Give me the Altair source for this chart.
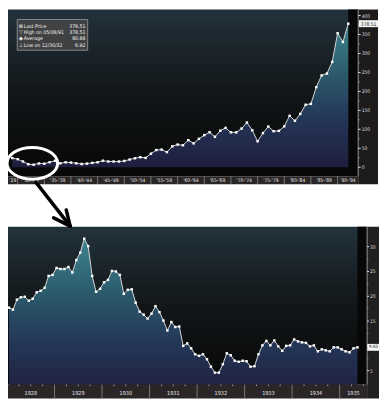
import altair as alt
import pandas as pd

# ---------------- data ----------------
top_years = list(range(1928, 1992))
top_values = [24.35, 21.45, 15.34, 8.12, 6.92, 10.10, 9.50, 13.43, 17.18, 10.55,
              13.21, 12.49, 10.58, 8.69, 9.77, 11.67, 13.28, 17.36, 15.30, 15.30,
              15.20, 16.76, 20.41, 23.77, 26.57, 24.81, 35.98, 45.48, 46.67, 39.99,
              55.21, 59.89, 58.11, 71.55, 63.10, 75.02, 84.75, 92.43, 80.33, 96.47,
              103.86, 92.06, 92.15, 102.09, 118.05, 97.55, 68.56, 90.19, 107.46, 95.10,
              96.11, 107.94, 135.76, 122.55, 140.64, 164.93, 167.24, 211.28, 242.17, 247.08,
              277.72, 353.40, 330.22, 378.51]
top_ticks = [0, 50, 100, 150, 200, 250, 300, 350, 400]
top_minor = [25, 75, 125, 175, 225, 275, 325, 375]
top_bounds = [1929, 1934, 1939, 1944, 1949, 1954, 1959, 1964, 1969, 1974, 1979, 1984, 1989]
top_xlabels = ["'29", "'30-'34", "'35-'39", "'40-'44", "'45-'49", "'50-'54", "'55-'59",
               "'60-'64", "'65-'69", "'70-'74", "'75-'79", "'80-'84", "'85-'89", "'90-'94"]
top_last_label = "378.51"

legend_symbols = ["\u22a0", "\u22a4", "\u25c6", "\u22a5"]
legend_names = ["Last Price", "High on 05/08/91", "Average", "Low on 12/30/32"]
legend_values = ["378.51", "378.51", "80.88", "6.92"]

bot_start_year = 1928
bot_values = [17.7, 17.3, 19.3, 19.8, 19.9, 19.1, 19.5, 20.8, 21.1, 21.7, 24.1, 24.3,
              25.7, 25.5, 25.5, 25.9, 24.8, 27.3, 28.8, 31.6, 30.1, 24.1, 20.9, 21.5,
              22.8, 23.3, 25.1, 25.0, 24.3, 20.5, 21.3, 21.4, 18.7, 16.9, 16.3, 15.5,
              16.5, 18.0, 16.8, 15.1, 13.1, 14.8, 13.8, 13.9, 10.0, 10.5, 9.5, 8.3,
              8.0, 8.3, 7.3, 5.8, 4.6, 4.6, 6.3, 8.5, 8.1, 7.0, 6.8, 7.0,
              6.9, 5.8, 5.9, 8.3, 10.1, 11.0, 10.1, 11.1, 9.9, 9.0, 10.0, 10.1,
              11.3, 10.9, 10.7, 10.6, 9.9, 10.1, 8.9, 9.3, 9.1, 8.9, 9.7, 9.7,
              9.3, 8.9, 8.7, 9.5, 9.7]
bot_ticks = [5, 10, 15, 20, 25, 30]
bot_tick_labels = [5, 15, 20, 25, 30]
bot_minor = [7.5, 12.5, 17.5, 22.5, 27.5]
bot_years = [1928, 1929, 1930, 1931, 1932, 1933, 1934, 1935]
bot_last_label = "9.65"

# ---------------- geometry / scales ----------------
FONT = "DejaVu Sans Condensed, Liberation Sans Narrow, Liberation Sans, sans-serif"
TX_DOM, TX_RNG = [1927.196, 1992.86], [0, 353]
TY_DOM, TY_RNG = [0, 400], [159, 6]
BX_DOM, BX_RNG = [1928, 1935.578], [-1, 362]
BY_DOM, BY_RNG = [5, 30], [364, 239]

def S(dom, rng):
    return alt.Scale(domain=dom, range=rng, nice=False, zero=False)

def XT(f="t"):
    return alt.X(f + ":Q", scale=S(TX_DOM, TX_RNG), axis=None)

def YT(f="v"):
    return alt.Y(f + ":Q", scale=S(TY_DOM, TY_RNG), axis=None)

def XB(f="t"):
    return alt.X(f + ":Q", scale=S(BX_DOM, BX_RNG), axis=None)

def YB(f="v"):
    return alt.Y(f + ":Q", scale=S(BY_DOM, BY_RNG), axis=None)

V = alt.value
one = pd.DataFrame({"k": [0]})

BG_GRAD = alt.Gradient(gradient="linear", x1=0, x2=0, y1=0, y2=1, stops=[
    alt.GradientStop(offset=0, color="#22323c"),
    alt.GradientStop(offset=0.5, color="#121618"),
    alt.GradientStop(offset=1, color="#070707")])
AREA_GRAD = alt.Gradient(gradient="linear", x1=0, x2=0, y1=0, y2=1, stops=[
    alt.GradientStop(offset=0, color="#3e838e"),
    alt.GradientStop(offset=0.35, color="#2b5a6c"),
    alt.GradientStop(offset=0.65, color="#243858"),
    alt.GradientStop(offset=1, color="#1f1d3e")])

top_df = pd.DataFrame({"t": top_years, "v": top_values})
bot_df = pd.DataFrame({"t": [bot_start_year + (i + 0.5) / 12 for i in range(len(bot_values))],
                       "v": bot_values})

layers = []

# ================= TOP PANEL =================
T_PB, T_OB, T_AX, T_OR = 168, 176, 353, 373
layers.append(alt.Chart(one).mark_rect(color=BG_GRAD).encode(
    x=V(0), x2=V(T_AX), y=V(0), y2=V(T_PB)))
layers.append(alt.Chart(top_df.tail(1)).mark_rect(color="#070707").encode(
    x=XT(), x2=V(T_AX), y=V(0), y2=V(T_PB)))
layers.append(alt.Chart(top_df).mark_area(color=AREA_GRAD, line=False).encode(
    x=XT(), y=YT(), y2=V(T_PB)))
layers.append(alt.Chart(top_df).mark_line(color="#d4d4d4", strokeWidth=1).encode(
    x=XT(), y=YT()))
layers.append(alt.Chart(top_df).mark_square(size=6, color="#ffffff", opacity=1).encode(
    x=XT(), y=YT()))
# strips
layers.append(alt.Chart(one).mark_rect(color="#2a2627").encode(
    x=V(0), x2=V(T_AX), y=V(T_PB), y2=V(T_OB)))
layers.append(alt.Chart(one).mark_rect(color="#1e1b1c").encode(
    x=V(T_AX), x2=V(T_OR), y=V(0), y2=V(T_OB)))
layers.append(alt.Chart(one).mark_rule(color="#8c8c8c", strokeWidth=1).encode(
    x=V(T_AX), y=V(0), y2=V(T_PB)))
# y ticks & labels
layers.append(alt.Chart(pd.DataFrame({"v": top_ticks})).mark_rule(color="#dddddd", strokeWidth=1).encode(
    y=YT(), x=V(T_AX), x2=V(T_AX + 2.5)))
layers.append(alt.Chart(pd.DataFrame({"v": top_minor})).mark_rule(color="#aaaaaa", strokeWidth=0.8).encode(
    y=YT(), x=V(T_AX), x2=V(T_AX + 1.5)))
layers.append(alt.Chart(pd.DataFrame({"v": top_ticks, "s": [str(t) for t in top_ticks]})).mark_text(
    font=FONT, fontSize=5, color="#dcdcdc", align="left", baseline="middle").encode(
    y=YT(), x=V(T_AX + 3.5), text="s:N"))
# last price box
layers.append(alt.Chart(top_df.tail(1)).mark_point(
    shape="M-1,-0.36L1,-0.36L1,0.36L-1,0.36Z", size=380, filled=True, color="#f4f4f4", opacity=1).encode(
    y=YT(), x=V(T_AX + 10.5)))
layers.append(alt.Chart(pd.DataFrame({"v": [top_values[-1]], "s": [top_last_label]})).mark_text(
    font=FONT, fontSize=5, color="#222222", align="center", baseline="middle").encode(
    y=YT(), x=V(T_AX + 10.5), text="s:N"))
# x strip labels & separators
tb_full = [TX_DOM[0]] + top_bounds + [TX_DOM[1]]
top_lab_df = pd.DataFrame({"t": [(a + b) / 2 for a, b in zip(tb_full[:-1], tb_full[1:])],
                           "s": top_xlabels})
layers.append(alt.Chart(pd.DataFrame({"t": top_bounds})).mark_rule(color="#8a8a8a", strokeWidth=0.8).encode(
    x=XT(), y=V(T_PB), y2=V(T_OB)))
layers.append(alt.Chart(top_lab_df).mark_text(
    font=FONT, fontSize=5, color="#e8e8e8", align="center", baseline="middle").encode(
    x=XT(), y=V(T_PB + 4.3), text="s:N"))
# legend box
layers.append(alt.Chart(one).mark_rect(color="#404142", stroke="#9a9a9a", strokeWidth=0.8).encode(
    x=V(9.3), x2=V(80.3), y=V(10), y2=V(41)))
leg_df = pd.DataFrame({"r": [0, 1, 2, 3], "sym": legend_symbols, "n": legend_names, "val": legend_values})
LEG_Y = alt.Y("r:Q", scale=alt.Scale(domain=[0, 3], range=[16.5, 35.5], nice=False, zero=False), axis=None)
layers.append(alt.Chart(leg_df).mark_text(font="DejaVu Sans", fontSize=5, color="#f0f0f0",
                                          align="center", baseline="middle").encode(
    y=LEG_Y, x=V(13), text="sym:N"))
layers.append(alt.Chart(leg_df).mark_text(font=FONT, fontSize=5.2, color="#f0f0f0",
                                          align="left", baseline="middle").encode(
    y=LEG_Y, x=V(16), text="n:N"))
layers.append(alt.Chart(leg_df).mark_text(font=FONT, fontSize=5.2, color="#f0f0f0",
                                          align="right", baseline="middle").encode(
    y=LEG_Y, x=V(78), text="val:N"))

# ================= BOTTOM PANEL =================
B_PT, B_PB, B_OB, B_AX, B_OR = 219, 378, 392, 362, 374
layers.append(alt.Chart(one).mark_rect(color=BG_GRAD).encode(
    x=V(0), x2=V(B_AX), y=V(B_PT), y2=V(B_PB)))
layers.append(alt.Chart(bot_df.tail(1)).mark_rect(color="#070707").encode(
    x=XB(), x2=V(B_AX), y=V(B_PT), y2=V(B_PB)))
layers.append(alt.Chart(bot_df).mark_area(color=AREA_GRAD, line=False).encode(
    x=XB(), y=YB(), y2=V(B_PB)))
layers.append(alt.Chart(bot_df).mark_line(color="#d4d4d4", strokeWidth=1).encode(
    x=XB(), y=YB()))
layers.append(alt.Chart(bot_df).mark_square(size=6, color="#ffffff", opacity=1).encode(
    x=XB(), y=YB()))
layers.append(alt.Chart(one).mark_rect(color="#2a2627").encode(
    x=V(0), x2=V(B_AX), y=V(B_PB), y2=V(B_OB)))
layers.append(alt.Chart(one).mark_rect(color="#221f20").encode(
    x=V(B_AX), x2=V(B_OR), y=V(B_PT), y2=V(B_OB)))
layers.append(alt.Chart(one).mark_rule(color="#8c8c8c", strokeWidth=1).encode(
    x=V(B_AX), y=V(B_PT), y2=V(B_PB)))
layers.append(alt.Chart(pd.DataFrame({"v": bot_ticks})).mark_rule(color="#dddddd", strokeWidth=1).encode(
    y=YB(), x=V(B_AX), x2=V(B_AX + 2)))
layers.append(alt.Chart(pd.DataFrame({"v": bot_minor})).mark_rule(color="#aaaaaa", strokeWidth=0.8).encode(
    y=YB(), x=V(B_AX), x2=V(B_AX + 1.3)))
layers.append(alt.Chart(pd.DataFrame({"v": bot_tick_labels, "s": [str(t) for t in bot_tick_labels]})).mark_text(
    font=FONT, fontSize=5, color="#dcdcdc", align="left", baseline="middle").encode(
    y=YB(), x=V(B_AX + 2.8), text="s:N"))
layers.append(alt.Chart(bot_df.tail(1)).mark_point(
    shape="M-1,-0.55L1,-0.55L1,0.55L-1,0.55Z", size=160, filled=True, color="#f4f4f4", opacity=1).encode(
    y=YB(), x=V(B_AX + 6.5)))
layers.append(alt.Chart(pd.DataFrame({"v": [bot_values[-1]], "s": [bot_last_label]})).mark_text(
    font=FONT, fontSize=4.6, color="#222222", align="center", baseline="middle").encode(
    y=YB(), x=V(B_AX + 6.5), text="s:N"))
bsep = pd.DataFrame({"t": [y for y in bot_years[1:]]})
bq = pd.DataFrame({"t": [y + q / 4 for y in bot_years for q in (1, 2, 3)
                         if y + q / 4 < BX_DOM[1]]})
blab = pd.DataFrame({"t": [min(y + 0.5, (y + BX_DOM[1]) / 2) for y in bot_years],
                     "s": [str(y) for y in bot_years]})
layers.append(alt.Chart(bsep).mark_rule(color="#8a8a8a", strokeWidth=0.8).encode(
    x=XB(), y=V(B_PB), y2=V(B_OB)))
layers.append(alt.Chart(bq).mark_rule(color="#bbbbbb", strokeWidth=0.8).encode(
    x=XB(), y=V(B_PB), y2=V(B_PB + 1.6)))
layers.append(alt.Chart(blab).mark_text(
    font=FONT, fontSize=5.5, color="#e8e8e8", align="center", baseline="middle").encode(
    x=XB(), y=V(B_PB + 8.5), text="s:N"))

# ================= ANNOTATIONS =================
layers.append(alt.Chart(one).mark_point(
    shape="M-1,0A1,0.63,0,1,1,1,0A1,0.63,0,1,1,-1,0Z", size=2601, filled=False,
    stroke="#ffffff", strokeWidth=3, opacity=1).encode(x=V(24.5), y=V(155)))
for (x1, y1, x2, y2) in [(28, 174, 62.7, 218.3), (62.7, 218.3, 46, 210), (62.7, 218.3, 58.7, 202)]:
    layers.append(alt.Chart(one).mark_rule(color="#000000", strokeWidth=3.5, strokeCap="round").encode(
        x=V(x1), y=V(y1), x2=V(x2), y2=V(y2)))

chart = alt.layer(*layers).resolve_scale(x="independent", y="independent").properties(
    width=375, height=393, padding=0, background="#ffffff",
    autosize=alt.AutoSizeParams(type="none")
).configure_view(strokeWidth=0)

chart.save("out.html", embed_options={"renderer": "svg", "actions": False})
